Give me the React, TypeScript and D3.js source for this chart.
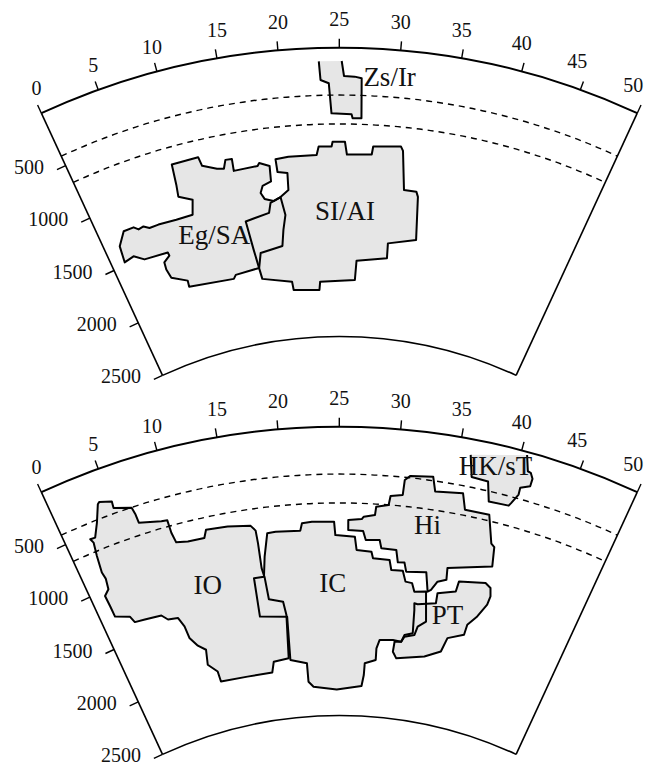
import React from "react";
import * as d3 from "d3";

type P = [number, number]; // [angular distance (deg), depth (km)]

// ---- axes ----
const angleTicks = [0, 5, 10, 15, 20, 25, 30, 35, 40, 45, 50];
const depthTicks = [500, 1000, 1500, 2000, 2500];
const discontinuities = [410, 660];

// ---- upper panel regions ----
const zsIr: P[] = [[23.3,115],[23.4,277],[24.1,307],[24.3,568],[26.1,576],[26.2,610],[27.0,608],[26.9,261],[26.3,249],[25.4,245],[25.2,115]];
const egSA: P[] = [[9.11,811],[11.67,806],[11.85,887],[13.18,939],[13.83,951],[14.13,878],[14.75,880],[14.73,985],[17.08,975],[17.27,951],[18.23,988],[18.19,1123],[17.3,1152],[17.01,1210],[17.33,1266],[18.21,1294],[18.97,1266],[19.29,1425],[18.91,1552],[18.61,1689],[16.08,1724],[15.64,1850],[12.81,1872],[12.49,1902],[7.19,1867],[7.24,1813],[5.57,1744],[5.34,1663],[5.4,1599],[6.16,1558],[6.11,1528],[3.49,1515],[2.52,1455],[1.4,1473],[1.59,1329],[2.56,1222],[3.64,1222],[4.04,1254],[4.61,1245],[5.14,1275],[6.12,1273],[8.02,1280],[9.77,1277],[10.16,1152],[8.87,1094],[9.0,989]];
const siAI: P[] = [[18.87,937],[20.12,925],[22.83,926],[23.05,852],[24.27,855],[24.37,814],[25.53,814],[25.73,925],[28.1,917],[28.2,847],[30.81,829],[31.04,865],[31.55,1200],[32.81,1201],[33.04,1244],[33.5,1615],[30.44,1674],[30.49,1803],[27.0,1842],[26.88,2009],[22.68,2022],[22.55,2094],[19.39,2078],[19.29,2005],[15.8,1948],[15.36,1688],[15.03,1434],[17.6,1391],[17.88,1307],[18.97,1266],[19.84,1212],[19.89,1065],[18.93,1048]];

// ---- lower panel regions ----
const io: P[] = [[3.94,287],[4.12,272],[5.15,305],[5.1,363],[6.59,413],[6.73,479],[6.78,555],[8.75,601],[9.29,607],[9.34,720],[9.54,811],[10.62,829],[12.2,834],[12.52,767],[14.55,777],[16.68,803],[17.08,850],[17.14,960],[17.16,1179],[17.34,1261],[17.48,1454],[18.96,1489],[19.17,1607],[18.92,1982],[17.09,1995],[16.72,2087],[13.63,2085],[10.32,2075],[10.24,1984],[9.31,1905],[9.58,1776],[8.81,1723],[8.15,1638],[8.0,1530],[7.59,1443],[6.54,1430],[6.01,1379],[4.24,1363],[3.17,1353],[2.9,1293],[1.5,1243],[1.46,1142],[1.4,1045],[1.96,1003],[2.12,909],[2.0,848],[2.17,699],[2.36,581],[2.2,543],[2.66,546],[3.3,431]];
const ic: P[] = [[18.14,885],[18.94,880],[21.29,889],[21.49,826],[22.43,817],[24.51,822],[24.62,938],[26.5,951],[26.7,1065],[28.17,1074],[28.36,1131],[30.02,1135],[30.28,1220],[31.45,1216],[31.85,1307],[32.55,1313],[32.9,1384],[34.11,1368],[34.63,1624],[33.8,1679],[33.58,1754],[32.48,1781],[32.18,1828],[31.2,1822],[29.68,1832],[29.38,1906],[29.4,2008],[28.1,2042],[28.06,2144],[27.84,2240],[24.67,2274],[21.7,2245],[21.1,2199],[21.06,2039],[19.1,1998],[19.23,1622],[16.26,1592],[16.25,1256],[17.28,1255],[17.61,1083]];
const hi: P[] = [[25.84,807],[27.1,796],[27.28,775],[28.31,756],[28.38,683],[29.5,661],[29.61,582],[30.69,564],[30.74,433],[31.19,393],[33.16,375],[33.52,500],[35.97,474],[36.42,611],[38.66,608],[39.49,847],[39.84,869],[40.13,1035],[35.85,1136],[35.97,1237],[35.11,1267],[34.59,1346],[34.27,1366],[33.83,1203],[31.8,1221],[31.52,1143],[30.86,1148],[30.59,1043],[29.12,1040],[28.9,969],[27.56,976],[27.27,899],[25.85,894]];
const pt: P[] = [[33.07,1483],[33.43,1487],[35.34,1453],[35.32,1365],[37.15,1320],[37.26,1229],[39.91,1189],[40.52,1219],[40.75,1289],[40.65,1366],[39.96,1487],[39.14,1578],[39.06,1669],[37.33,1730],[36.91,1855],[35.12,1925],[31.84,1976],[31.35,1922],[31.42,1835],[32.18,1828],[32.46,1766],[33.36,1742],[33.17,1540]];
const hkST: P[] = [[35.99,135],[36.43,322],[37.89,330],[38.34,497],[40.14,490],[40.3,461],[40.72,375],[40.7,315],[41.48,278],[41.49,211],[41.21,165],[40.94,159],[40.52,25]];

// ---- region labels ----
const upperLabelNames = ["Eg/SA", "SI/AI", "Zs/Ir"];
const upperLabelPos: P[] = [[11.46,1492],[25.6,1405],[29.26,237]];
const lowerLabelNames = ["IO", "IC", "Hi", "PT", "HK/sT"];
const lowerLabelPos: P[] = [[11.5,1235],[24.32,1351],[33.27,796],[36.8,1533],[38.2,183]];

// ---- layout ----
const W = 645, H = 766;
const CX = 339.3;
const PANEL_CY = [758, 1137];
const R_TOP = 710.3, R_BOTTOM = 421.5;
const HALF_SPAN = 24.8 * Math.PI / 180;
const FONT = "'Liberation Serif', 'Times New Roman', serif";
const FILL = "#e6e6e6";

const rScale = d3.scaleLinear().domain([0, 2500]).range([R_TOP, R_BOTTOM]);
const aScale = d3.scaleLinear().domain([0, 50]).range([-HALF_SPAN, HALF_SPAN]);

const toXY = (a: number, d: number): [number, number] => {
  const t = aScale(a), r = rScale(d);
  return [r * Math.sin(t), -r * Math.cos(t)];
};

const radial = d3.lineRadial<P>().angle(d => aScale(d[0])).radius(d => rScale(d[1]));
const radialClosed = d3.lineRadial<P>().angle(d => aScale(d[0])).radius(d => rScale(d[1])).curve(d3.curveLinearClosed);

function arcPath(depth: number) {
  const r = rScale(depth);
  const p = d3.path();
  p.arc(0, 0, r, aScale(0) - Math.PI / 2, aScale(50) - Math.PI / 2, false);
  return p.toString();
}

// label offset of the angular tick labels relative to their tick foot
function angleLabelOffset(t: number): [number, number] {
  if (t <= 10) return [-5, -25];
  if (t === 50) return [-4, -28.5];
  if (t >= 45) return [-3, -28.5];
  return [0, -28.5];
}

type Region = { pts: P[]; open: boolean };

function Panel({ cy, regions, names, pos }: { cy: number; regions: Region[]; names: string[]; pos: P[] }) {
  const a0 = aScale(0);
  const outward: [number, number] = [-Math.cos(a0), -Math.sin(a0)];
  return (
    <g transform={`translate(${CX},${cy})`}>
      {regions.map((r, i) => (
        <path key={"f" + i} d={radialClosed(r.pts) || ""} fill={FILL} stroke="none" />
      ))}
      {discontinuities.map(d => (
        <path key={"dash" + d} d={arcPath(d)} fill="none" stroke="#000" strokeWidth={1.4} strokeDasharray="6,5" />
      ))}
      {regions.map((r, i) => (
        <path key={"s" + i} d={(r.open ? radial(r.pts) : radialClosed(r.pts)) || ""} fill="none" stroke="#000" strokeWidth={2} strokeLinejoin="round" />
      ))}
      <path d={arcPath(0)} fill="none" stroke="#000" strokeWidth={2} />
      <path d={arcPath(2500)} fill="none" stroke="#000" strokeWidth={1.6} />
      {[0, 50].map(a => {
        const [x1, y1] = toXY(a, 0);
        const [x2, y2] = toXY(a, 2500);
        return <line key={"edge" + a} x1={x1} y1={y1} x2={x2} y2={y2} stroke="#000" strokeWidth={1.6} />;
      })}
      {angleTicks.map(t => {
        const th = aScale(t);
        const r = rScale(0);
        const x1 = r * Math.sin(th), y1 = -r * Math.cos(th);
        const x2 = (r + 9) * Math.sin(th), y2 = -(r + 9) * Math.cos(th);
        const [ox, oy] = angleLabelOffset(t);
        let lx = x1 + ox;
        // keep the label inside the picture
        lx = Math.min(lx, W - CX - 11);
        return (
          <g key={"at" + t}>
            <line x1={x1} y1={y1} x2={x2} y2={y2} stroke="#000" strokeWidth={1.4} />
            <text x={lx} y={y1 + oy} textAnchor="middle" dy="0.35em" fontFamily={FONT} fontSize={20} fill="#111">{t}</text>
          </g>
        );
      })}
      {depthTicks.map(d => {
        const [x1, y1] = toXY(0, d);
        const x2 = x1 + outward[0] * 9.5, y2 = y1 + outward[1] * 9.5;
        return (
          <g key={"dt" + d}>
            <line x1={x1} y1={y1} x2={x2} y2={y2} stroke="#000" strokeWidth={1.4} />
            <text x={x2 - 13} y={y2 - 3} textAnchor="end" dy="0.35em" fontFamily={FONT} fontSize={20} fill="#111">{d}</text>
          </g>
        );
      })}
      {names.map((n, i) => {
        const [x, y] = toXY(pos[i][0], pos[i][1]);
        return (
          <text key={"lbl" + n} x={x} y={y} textAnchor="middle" dy="0.35em" fontFamily={FONT} fontSize={27} fill="#111">{n}</text>
        );
      })}
    </g>
  );
}

export default function App() {
  const upper: Region[] = [
    { pts: egSA, open: false },
    { pts: siAI, open: false },
    { pts: zsIr, open: true },
  ];
  const lower: Region[] = [
    { pts: io, open: false },
    { pts: ic, open: false },
    { pts: hi, open: false },
    { pts: pt, open: false },
    { pts: hkST, open: true },
  ];
  return (
    <svg width={W} height={H} viewBox={`0 0 ${W} ${H}`} style={{ position: "absolute", left: 0, top: 0, background: "#fff" }}>
      <rect width={W} height={H} fill="#fff" />
      <Panel cy={PANEL_CY[0]} regions={upper} names={upperLabelNames} pos={upperLabelPos} />
      <Panel cy={PANEL_CY[1]} regions={lower} names={lowerLabelNames} pos={lowerLabelPos} />
    </svg>
  );
}
